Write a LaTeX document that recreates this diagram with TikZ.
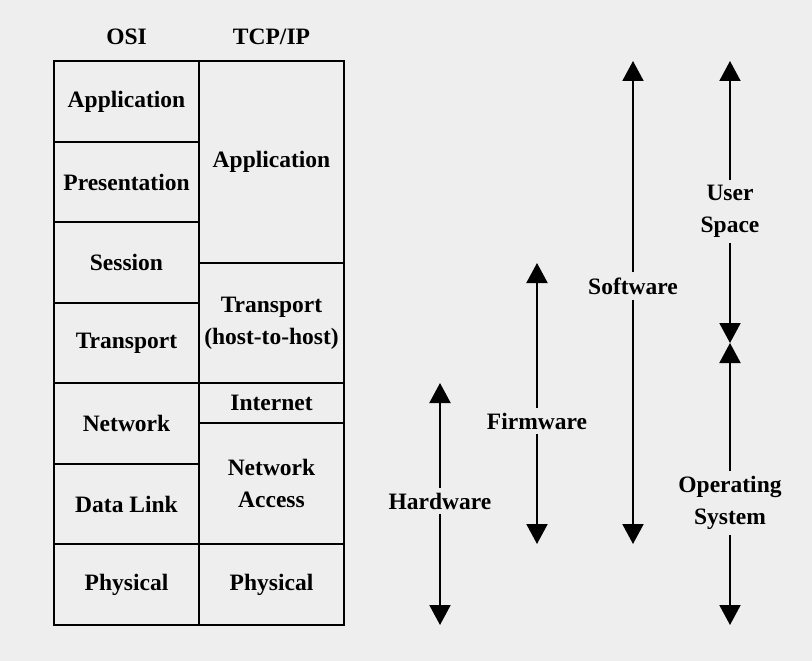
\documentclass[tikz,border=0pt]{standalone}
\usepackage{fontspec}
\setmainfont{Liberation Serif}
\usetikzlibrary{positioning,arrows.meta}
\definecolor{paper}{HTML}{EEEEEE}

\begin{document}
\begin{tikzpicture}[
    x=1pt, y=-1pt,
    >={Triangle[width=21pt,length=20pt]},
    every node/.style={font=\fontsize{23.5}{32}\selectfont\bfseries},
    layer/.style={
      rectangle, draw=black, line width=2pt,
      minimum width=145pt, outer sep=0pt,
      inner xsep=1pt, align=center
    },
    header/.style={inner sep=3pt},
    tag/.style={align=center, inner xsep=2pt, inner ysep=5pt},
    span/.style={line width=2pt, ->},
  ]

  % Background
  \fill[paper] (0,0) rectangle (812,661);

  % OSI layers
  \node[layer, minimum height=81pt] (osiapp) at (126.5,101.5) {Application};
  \node[layer, minimum height=80pt, below=0pt of osiapp]   (osipres)  {Presentation};
  \node[layer, minimum height=81pt, below=0pt of osipres]  (osisess)  {Session};
  \node[layer, minimum height=80pt, below=0pt of osisess]  (ositrans) {Transport};
  \node[layer, minimum height=81pt, below=0pt of ositrans] (osinet)   {Network};
  \node[layer, minimum height=80pt, below=0pt of osinet]   (osilink)  {Data Link};
  \node[layer, minimum height=81pt, below=0pt of osilink]  (osiphys)  {Physical};

  % TCP/IP layers
  \node[layer, minimum height=202pt, anchor=north west] (tcpapp) at (osiapp.north east) {Application};
  \node[layer, minimum height=120pt, below=0pt of tcpapp]   (tcptrans) {Transport\\(host-to-host)};
  \node[layer, minimum height=40pt,  below=0pt of tcptrans] (tcpinet)  {Internet};
  \node[layer, minimum height=121pt, below=0pt of tcpinet]  (tcpnet)   {Network\\Access};
  \node[layer, minimum height=81pt,  below=0pt of tcpnet]   (tcpphys)  {Physical};

  % Column headers
  \node[header, above=13pt of osiapp] (osihead) {OSI};
  \node[header, above=13pt of tcpapp] (tcphead) {TCP/IP};

  % Hardware
  \node[tag] (hw) at (440,501) {Hardware};
  \coordinate (hwtop) at (hw |- tcpinet.north);
  \coordinate (hwbot) at (hw |- tcpphys.south);
  \draw[span] (hw) -- (hwtop);
  \draw[span] (hw) -- (hwbot);

  % Firmware
  \node[tag] (fw) at (537,421) {Firmware};
  \coordinate (fwtop) at (fw |- tcptrans.north);
  \coordinate (fwbot) at (fw |- tcpphys.north);
  \draw[span] (fw) -- (fwtop);
  \draw[span] (fw) -- (fwbot);

  % Software
  \node[tag] (sw) at (633,286) {Software};
  \coordinate (swtop) at (sw |- tcpapp.north);
  \coordinate (swbot) at (sw |- tcpphys.north);
  \draw[span] (sw) -- (swtop);
  \draw[span] (sw) -- (swbot);

  % User space / operating system
  \node[tag] (us) at (730,211.5) {User\\Space};
  \node[tag] (os) at (730,503) {Operating\\System};
  \coordinate (ustop) at (us |- tcpapp.north);
  \coordinate (usmid) at (us |- ositrans);
  \coordinate (osbot) at (os |- tcpphys.south);
  \draw[span] (us) -- (ustop);
  \draw[span] (us) -- (usmid);
  \draw[span] (os) -- (usmid);
  \draw[span] (os) -- (osbot);

\end{tikzpicture}
\end{document}
